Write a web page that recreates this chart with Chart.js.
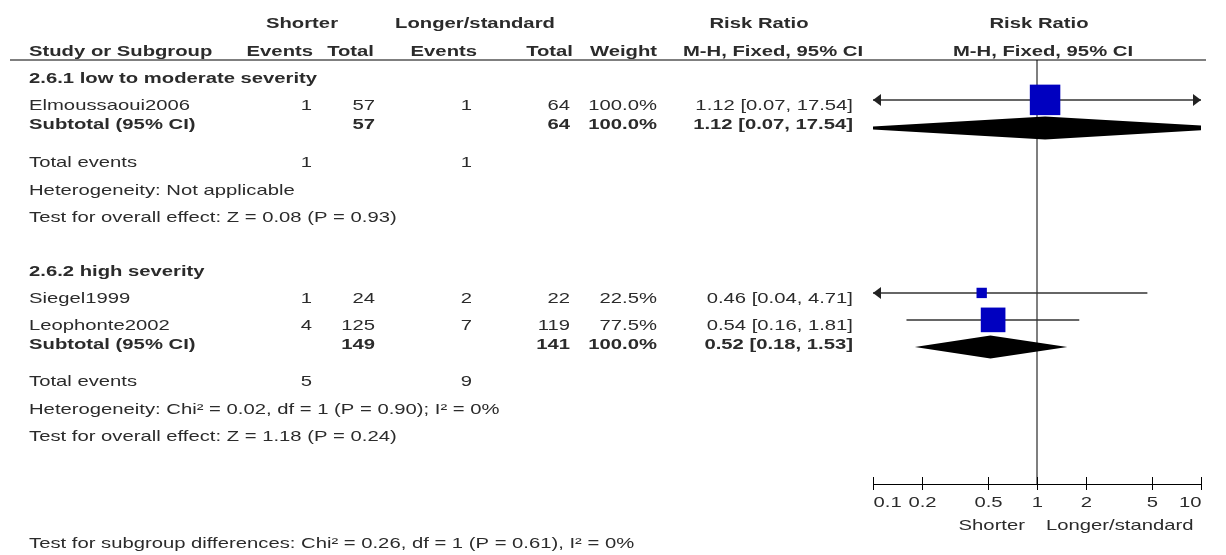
<!DOCTYPE html>
<html>
<head>
<meta charset="utf-8">
<script src="https://cdn.jsdelivr.net/npm/chart.js@4.4.1/dist/chart.umd.min.js"></script>
<style>
  html, body { margin: 0; padding: 0; background: #fff; }
  canvas { display: block; }
</style>
</head>
<body>
<canvas id="forest" width="1226" height="555"></canvas>
<script>
// studies
const studyNames = ['Elmoussaoui2006', 'Siegel1999', 'Leophonte2002'];
const studyGroup = [0, 1, 1];
const shorterEvents = [1, 1, 4];
const shorterTotal = [57, 24, 125];
const longerEvents = [1, 2, 7];
const longerTotal = [64, 22, 119];
const studyWeight = [100.0, 22.5, 77.5];
const studyRR = [1.12, 0.46, 0.54];
const studyLow = [0.07, 0.04, 0.16];
const studyHigh = [17.54, 4.71, 1.81];
const studyRow = [1.45, 8.47, 9.45];

// subgroups
const groupNames = ['2.6.1 low to moderate severity', '2.6.2 high severity'];
const groupShorterTotal = [57, 149];
const groupLongerTotal = [64, 141];
const groupWeight = [100.0, 100.0];
const groupRR = [1.12, 0.52];
const groupLow = [0.07, 0.18];
const groupHigh = [17.54, 1.53];
const groupEventsShorter = [1, 5];
const groupEventsLonger = [1, 9];
const groupHeterogeneity = [
    'Heterogeneity: Not applicable',
    'Heterogeneity: Chi² = 0.02, df = 1 (P = 0.90); I² = 0%',
];
const groupOverall = [
    'Test for overall effect: Z = 0.08 (P = 0.93)',
    'Test for overall effect: Z = 1.18 (P = 0.24)',
];
const groupRow = [2.47, 10.44];

const tickValues = [0.1, 0.2, 0.5, 1, 2, 5, 10];
const subgroupTest = 'Test for subgroup differences: Chi² = 0.26, df = 1 (P = 0.61), I² = 0%';

const SX = 1.35;
const FONT = '"Liberation Sans", Arial, sans-serif';
const TEXT = '#2b2b2b';

function txt(ctx, s, x, y, align, bold) {
    ctx.save();
    ctx.translate(x, y + 2);
    ctx.scale(SX, 1);
    ctx.font = (bold ? 'bold ' : '') + '15px ' + FONT;
    ctx.fillStyle = TEXT;
    ctx.textAlign = align;
    ctx.textBaseline = 'middle';
    ctx.fillText(s, 0, 0);
    ctx.restore();
}

const f2 = v => v.toFixed(2);
const ciText = (r, l, h) => f2(r) + ' [' + f2(l) + ', ' + f2(h) + ']';

const forestPlugin = {
    id: 'forest',
    beforeDatasetsDraw(chart) {
        const { ctx, chartArea, scales: { x } } = chart;
        const x1 = x.getPixelForValue(1);
        ctx.save();
        ctx.strokeStyle = '#555';
        ctx.lineWidth = 1.5;
        ctx.beginPath();
        ctx.moveTo(x1, chartArea.top);
        ctx.lineTo(x1, chartArea.bottom);
        ctx.stroke();
        ctx.restore();
    },
    afterDatasetsDraw(chart) {
        const { ctx, chartArea, scales: { x, y } } = chart;
        // arrows where the CI runs off the axis
        ctx.save();
        ctx.fillStyle = '#222';
        studyRow.forEach((row, i) => {
            const py = y.getPixelForValue(row);
            if (studyLow[i] < x.min) {
                const px = chartArea.left;
                ctx.beginPath();
                ctx.moveTo(px, py);
                ctx.lineTo(px + 8, py - 6);
                ctx.lineTo(px + 8, py + 6);
                ctx.closePath();
                ctx.fill();
            }
            if (studyHigh[i] > x.max) {
                const px = chartArea.right;
                ctx.beginPath();
                ctx.moveTo(px, py);
                ctx.lineTo(px - 8, py - 6);
                ctx.lineTo(px - 8, py + 6);
                ctx.closePath();
                ctx.fill();
            }
        });
        ctx.restore();

        // subtotal diamonds, clipped to the plot
        ctx.save();
        ctx.beginPath();
        ctx.rect(chartArea.left, chartArea.top, chartArea.right - chartArea.left, chartArea.bottom - chartArea.top);
        ctx.clip();
        ctx.fillStyle = '#000';
        groupRow.forEach((row, g) => {
            const py = y.getPixelForValue(row);
            const xl = x.getPixelForValue(groupLow[g]);
            const xc = x.getPixelForValue(groupRR[g]);
            const xr = x.getPixelForValue(groupHigh[g]);
            ctx.beginPath();
            ctx.moveTo(xl, py);
            ctx.lineTo(xc, py - 11.5);
            ctx.lineTo(xr, py);
            ctx.lineTo(xc, py + 11.5);
            ctx.closePath();
            ctx.fill();
        });
        ctx.restore();
    },
    afterDraw(chart) {
        const { ctx, chartArea, scales: { x, y } } = chart;
        const bottom = chartArea.bottom;

        // axis ticks and labels
        ctx.save();
        ctx.strokeStyle = '#000';
        ctx.lineWidth = 1;
        const last = x.ticks.length - 1;
        x.ticks.forEach((t, k) => {
            const px = Math.round(x.getPixelForValue(t.value)) + 0.5;
            ctx.beginPath();
            ctx.moveTo(px, bottom - 7);
            ctx.lineTo(px, bottom + 6);
            ctx.stroke();
            const align = k === 0 ? 'left' : (k === last ? 'right' : 'center');
            txt(ctx, String(t.value), px, bottom + 17, align, false);
        });
        ctx.restore();
        const x1 = x.getPixelForValue(1);
        txt(ctx, 'Shorter', x1 - 12, bottom + 40, 'right', false);
        txt(ctx, 'Longer/standard', x1 + 9, bottom + 40, 'left', false);

        // header
        txt(ctx, 'Shorter', 302, 22, 'center', true);
        txt(ctx, 'Longer/standard', 475, 22, 'center', true);
        txt(ctx, 'Risk Ratio', 759, 22, 'center', true);
        txt(ctx, 'Risk Ratio', 1039, 22, 'center', true);
        txt(ctx, 'Study or Subgroup', 29, 50, 'left', true);
        txt(ctx, 'Events', 313, 50, 'right', true);
        txt(ctx, 'Total', 374, 50, 'right', true);
        txt(ctx, 'Events', 477, 50, 'right', true);
        txt(ctx, 'Total', 573, 50, 'right', true);
        txt(ctx, 'Weight', 657, 50, 'right', true);
        txt(ctx, 'M-H, Fixed, 95% CI', 773, 50, 'center', true);
        txt(ctx, 'M-H, Fixed, 95% CI', 1043, 50, 'center', true);

        ctx.save();
        ctx.strokeStyle = '#000';
        ctx.lineWidth = 1.2;
        ctx.beginPath();
        ctx.moveTo(10, chartArea.top);
        ctx.lineTo(1206, chartArea.top);
        ctx.stroke();
        ctx.restore();

        // study rows
        studyNames.forEach((name, i) => {
            const py = y.getPixelForValue(studyRow[i] + 0.15);
            txt(ctx, name, 29, py, 'left', false);
            txt(ctx, String(shorterEvents[i]), 312, py, 'right', false);
            txt(ctx, String(shorterTotal[i]), 375, py, 'right', false);
            txt(ctx, String(longerEvents[i]), 472, py, 'right', false);
            txt(ctx, String(longerTotal[i]), 570, py, 'right', false);
            txt(ctx, studyWeight[i].toFixed(1) + '%', 657, py, 'right', false);
            txt(ctx, ciText(studyRR[i], studyLow[i], studyHigh[i]), 853, py, 'right', false);
        });

        // subgroup rows
        groupNames.forEach((name, g) => {
            const first = studyRow[studyGroup.indexOf(g)];
            txt(ctx, name, 29, y.getPixelForValue(first - 0.85), 'left', true);
            const ps = y.getPixelForValue(groupRow[g] - 0.17);
            txt(ctx, 'Subtotal (95% CI)', 29, ps, 'left', true);
            txt(ctx, String(groupShorterTotal[g]), 375, ps, 'right', true);
            txt(ctx, String(groupLongerTotal[g]), 570, ps, 'right', true);
            txt(ctx, groupWeight[g].toFixed(1) + '%', 657, ps, 'right', true);
            txt(ctx, ciText(groupRR[g], groupLow[g], groupHigh[g]), 853, ps, 'right', true);
            const pt = y.getPixelForValue(groupRow[g] + 1.2);
            txt(ctx, 'Total events', 29, pt, 'left', false);
            txt(ctx, String(groupEventsShorter[g]), 312, pt, 'right', false);
            txt(ctx, String(groupEventsLonger[g]), 472, pt, 'right', false);
            txt(ctx, groupHeterogeneity[g], 29, y.getPixelForValue(groupRow[g] + 2.22), 'left', false);
            txt(ctx, groupOverall[g], 29, y.getPixelForValue(groupRow[g] + 3.2), 'left', false);
        });

        txt(ctx, subgroupTest, 29, 542, 'left', false);
    },
};

const ciDatasets = studyNames.map((name, i) => ({
    type: 'line',
    label: name,
    data: [{ x: studyLow[i], y: studyRow[i] }, { x: studyHigh[i], y: studyRow[i] }],
    borderColor: '#333',
    borderWidth: 1.5,
    pointRadius: 0,
    clip: 0,
    order: 2,
}));

const squareSide = w => 4.5 + 0.26 * w;

new Chart(document.getElementById('forest'), {
    type: 'scatter',
    data: {
        datasets: [
            ...ciDatasets,
            {
                type: 'scatter',
                label: 'Risk Ratio',
                data: studyRR.map((r, i) => ({ x: r, y: studyRow[i] })),
                pointStyle: 'rect',
                pointRadius: studyWeight.map(w => squareSide(w) / (2 * Math.SQRT1_2)),
                backgroundColor: '#0000c0',
                borderWidth: 0,
                order: 1,
            },
        ],
    },
    options: {
        responsive: false,
        animation: false,
        events: [],
        layout: {
            padding: { left: 873, right: 25, top: 60, bottom: 71 },
        },
        plugins: {
            legend: { display: false },
            tooltip: { enabled: false },
        },
        scales: {
            x: {
                type: 'logarithmic',
                min: 0.1,
                max: 10,
                afterBuildTicks: scale => {
                    scale.ticks = tickValues.map(v => ({ value: v }));
                },
                ticks: { display: false },
                grid: { display: false, drawTicks: false },
                border: { display: true, color: '#000', width: 1 },
            },
            y: {
                type: 'linear',
                min: 0,
                max: 15.418,
                reverse: true,
                display: false,
            },
        },
    },
    plugins: [forestPlugin],
});
</script>
</body>
</html>
